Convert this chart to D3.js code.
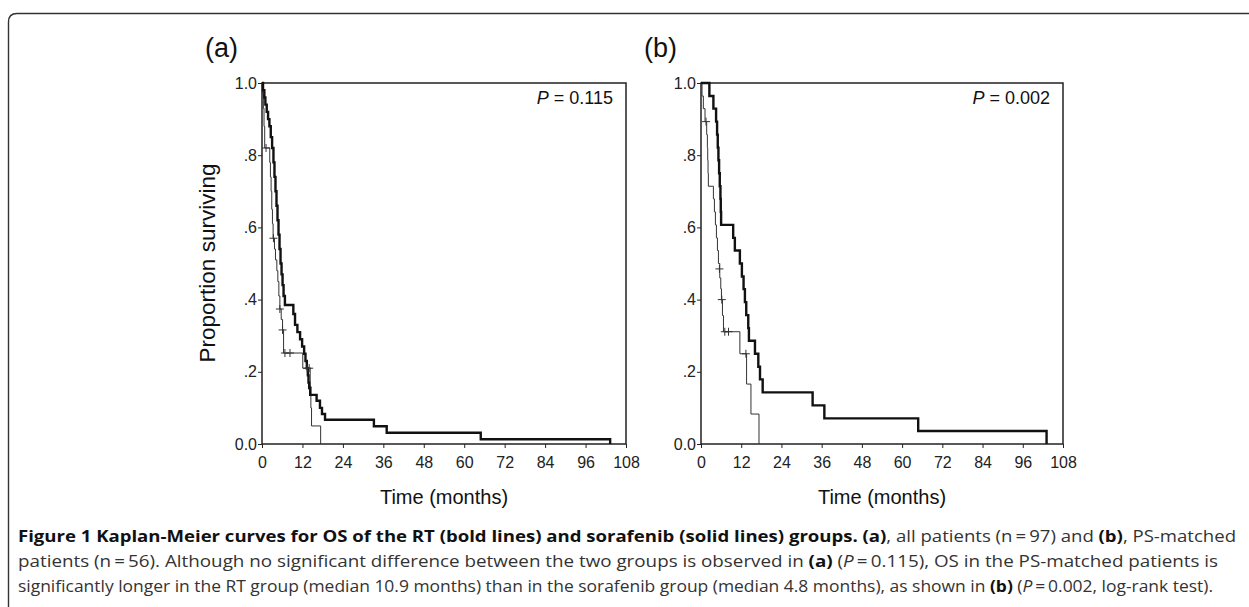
<!DOCTYPE html>
<html>
<head>
<meta charset="utf-8">
<script src="https://cdn.jsdelivr.net/npm/d3@7"></script>
<style>
  html, body { margin: 0; padding: 0; background: #fff; }
  svg { display: block; }
  .axis text { font-family: "Liberation Sans", Arial, sans-serif; font-size: 16px; fill: #222; }
  .axis line, .axis path { stroke: #222; }
</style>
</head>
<body>
<div id="chart"></div>
<script>
// Kaplan-Meier curves: survival after each event time (months)
const panelLabels = ["(a)", "(b)"];
const pValues = ["0.115", "0.002"];
const xTicks = [0, 12, 24, 36, 48, 60, 72, 84, 96, 108];
const yTicks = [0, 0.2, 0.4, 0.6, 0.8, 1.0];
const yTickLabels = ["0.0", ".2", ".4", ".6", ".8", "1.0"];

// panel (a) RT group (bold)
const rtTimesA = [0, 0.3, 0.7, 1.0, 1.4, 1.8, 2.2, 2.6, 3.0, 3.4, 3.7, 4.0, 4.3, 4.6, 4.9, 5.2, 5.5, 5.8, 6.1, 6.4, 6.8,
  9.3, 9.8, 10.5, 11.3, 11.9, 12.5, 12.9, 13.3, 13.6, 13.8, 14.0, 14.3, 16.2, 17.2, 17.8, 18.7, 33.2, 37.0, 64.9, 103.3];
const rtSurvA = [1, 0.98, 0.96, 0.94, 0.92, 0.90, 0.88, 0.85, 0.82, 0.78, 0.74, 0.70, 0.66, 0.62, 0.58, 0.54, 0.50, 0.47, 0.44, 0.41, 0.385,
  0.36, 0.33, 0.31, 0.29, 0.27, 0.25, 0.23, 0.21, 0.19, 0.17, 0.155, 0.136, 0.12, 0.10, 0.083, 0.067, 0.049, 0.031, 0.013, 0];

// panel (a) sorafenib group (thin)
const sorTimesA = [0, 0.2, 0.4, 0.6, 0.8, 2.3, 2.5, 2.7, 2.9, 3.1, 3.3, 3.7, 4.0, 4.4, 4.7, 5.0, 5.3, 5.7, 6.1, 6.4, 12.1, 14.3, 14.5, 14.7, 17.4];
const sorSurvA = [1, 0.97, 0.93, 0.88, 0.82, 0.78, 0.74, 0.70, 0.65, 0.61, 0.57, 0.54, 0.51, 0.48, 0.45, 0.41, 0.374, 0.345, 0.316, 0.252, 0.21, 0.16, 0.10, 0.05, 0];
const sorCensTA = [1.2, 3.4, 5.3, 6.1, 6.8, 8.3, 13.4, 14.0];
const sorCensSA = [0.82, 0.57, 0.374, 0.316, 0.252, 0.252, 0.21, 0.21];

// panel (b) RT group (bold), 28 patients
const rtTimesB = [0, 2.5, 3.7, 4.5, 4.8, 5.0, 5.2, 5.4, 5.6, 5.8, 5.9, 6.0, 9.6, 10.1, 11.6, 12.2, 12.7, 13.1, 13.5, 14.1, 14.3,
  16.1, 17.1, 17.6, 18.4, 33.3, 36.8, 64.8, 103.1];
const rtSurvB = [1, 0.964, 0.929, 0.893, 0.857, 0.821, 0.786, 0.75, 0.714, 0.679, 0.643, 0.607, 0.571, 0.536, 0.5, 0.464, 0.429, 0.393, 0.357, 0.321, 0.286,
  0.25, 0.214, 0.179, 0.143, 0.107, 0.071, 0.036, 0];

// panel (b) sorafenib group (thin)
const sorTimesB = [0, 0.3, 0.7, 1.2, 1.7, 1.9, 2.0, 2.1, 2.2, 3.7, 4.0, 4.3, 4.6, 4.9, 5.2, 5.6, 5.9, 6.1, 6.4, 6.7, 11.6, 13.6, 14.9, 17.3];
const sorSurvB = [1, 0.964, 0.929, 0.893, 0.857, 0.821, 0.786, 0.75, 0.714, 0.679, 0.643, 0.607, 0.571, 0.536, 0.50, 0.46, 0.43, 0.40, 0.356, 0.311, 0.25, 0.166, 0.083, 0];
const sorCensTB = [1.5, 5.5, 6.2, 7.1, 8.2, 13.4];
const sorCensSB = [0.893, 0.485, 0.40, 0.311, 0.311, 0.25];

const zip = (t, s) => t.map((d, i) => [d, s[i]]);

const panels = [
  { left: 262, right: 626, label: panelLabels[0], p: pValues[0],
    rt: zip(rtTimesA, rtSurvA), sor: zip(sorTimesA, sorSurvA), cens: zip(sorCensTA, sorCensSA), ylab: true },
  { left: 701, right: 1063, label: panelLabels[1], p: pValues[1],
    rt: zip(rtTimesB, rtSurvB), sor: zip(sorTimesB, sorSurvB), cens: zip(sorCensTB, sorCensSB), ylab: false }
];

const W = 1249, H = 607;
const plotTop = 83, plotBottom = 444;
const chartFont = "'Liberation Sans', Arial, sans-serif";
const svg = d3.select("#chart").append("svg").attr("width", W).attr("height", H);

// outer figure border (rounded top-left corner)
svg.append("path")
  .attr("d", `M8.5,${H} L8.5,22 Q8.5,13.5 17,13.5 L${W},13.5`)
  .attr("fill", "none").attr("stroke", "#333").attr("stroke-width", 1.4);

panels.forEach(pn => {
  const x = d3.scaleLinear().domain([0, 108]).range([pn.left, pn.right]);
  const y = d3.scaleLinear().domain([0, 1]).range([plotBottom, plotTop]);
  const g = svg.append("g");

  // plot frame
  g.append("rect").attr("x", x(0)).attr("y", y(1)).attr("width", x(108) - x(0)).attr("height", y(0) - y(1))
    .attr("fill", "none").attr("stroke", "#222").attr("stroke-width", 1.5);

  g.append("g").attr("class", "axis").attr("transform", `translate(0,${plotBottom})`)
    .call(d3.axisBottom(x).tickValues(xTicks).tickSize(4).tickPadding(9))
    .call(a => a.select(".domain").remove());

  g.append("g").attr("class", "axis").attr("transform", `translate(${pn.left},0)`)
    .call(d3.axisLeft(y).tickValues(yTicks).tickFormat((d, i) => yTickLabels[i]).tickSize(4).tickPadding(1))
    .call(a => a.select(".domain").remove());

  const line = d3.line().x(d => x(d[0])).y(d => y(d[1])).curve(d3.curveStepAfter);

  g.append("path").datum(pn.sor).attr("d", line)
    .attr("fill", "none").attr("stroke", "#333").attr("stroke-width", 1);
  g.append("path").datum(pn.rt).attr("d", line)
    .attr("fill", "none").attr("stroke", "#111").attr("stroke-width", 2.4);

  // censor marks
  g.selectAll(".cens").data(pn.cens).enter().append("path")
    .attr("d", d => `M${x(d[0]) - 4},${y(d[1])}h8M${x(d[0])},${y(d[1]) - 4}v8`)
    .attr("stroke", "#333").attr("stroke-width", 1);

  // panel label
  svg.append("text").attr("x", pn.left - 57).attr("y", 57)
    .style("font-family", chartFont).style("font-size", "27px").attr("fill", "#111")
    .text(pn.label);

  // P value
  const pt = g.append("text").attr("x", pn.right - 13).attr("y", 104).attr("text-anchor", "end")
    .style("font-family", chartFont).style("font-size", "18px").attr("fill", "#111");
  pt.append("tspan").style("font-style", "italic").text("P");
  pt.append("tspan").text(" = " + pn.p);

  // x axis title
  g.append("text").attr("x", (pn.left + pn.right) / 2).attr("y", 504).attr("text-anchor", "middle")
    .style("font-family", chartFont).style("font-size", "20px").attr("fill", "#111")
    .text("Time (months)");

  if (pn.ylab) {
    g.append("text").attr("transform", `translate(215,263) rotate(-90)`).attr("text-anchor", "middle")
      .style("font-family", chartFont).style("font-size", "22.5px").attr("fill", "#111")
      .text("Proportion surviving");
  }
});

// caption
const capFont = "'Open Sans', 'Noto Sans', sans-serif";
const capLines = [
  { y: 542, len: 1218, parts: [
    ["b", "Figure 1 Kaplan-Meier curves for OS of the RT (bold lines) and sorafenib (solid lines) groups. "],
    ["b", "(a)"], ["n", ", all patients (n\u2009=\u200997) and "], ["b", "(b)"], ["n", ", PS-matched"]] },
  { y: 567, len: 1200, parts: [
    ["n", "patients (n\u2009=\u200956). Although no significant difference between the two groups is observed in "],
    ["b", "(a)"], ["n", " ("], ["i", "P"], ["n", "\u2009=\u20090.115), OS in the PS-matched patients is"]] },
  { y: 592, len: 1195, parts: [
    ["n", "significantly longer in the RT group (median 10.9 months) than in the sorafenib group (median 4.8 months), as shown in "],
    ["b", "(b)"], ["n", " ("], ["i", "P"], ["n", "\u2009=\u20090.002, log-rank test)."]] }
];
capLines.forEach(l => {
  const t = svg.append("text").attr("x", 18).attr("y", l.y)
    .attr("textLength", l.len).attr("lengthAdjust", "spacingAndGlyphs")
    .style("font-family", capFont).style("font-size", "16px").attr("fill", "#333");
  l.parts.forEach(p => {
    const s = t.append("tspan").text(p[1]);
    if (p[0] === "b") s.style("font-weight", "bold").attr("fill", "#111");
    if (p[0] === "i") s.style("font-style", "italic");
  });
});
</script>
</body>
</html>
